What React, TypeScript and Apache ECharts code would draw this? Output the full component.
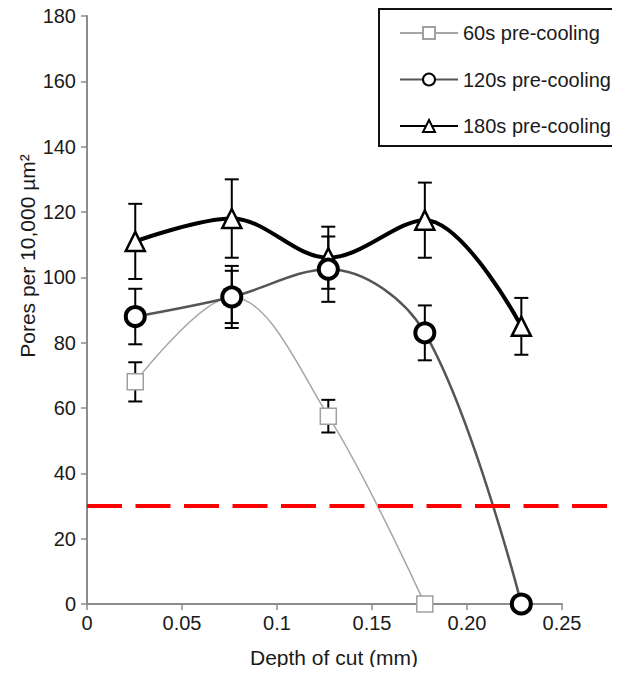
import React, { useEffect, useRef } from "react";
import * as echarts from "echarts";

// Depths of cut (mm) — 0.001" steps converted to mm
const depths = [0.0254, 0.0762, 0.127, 0.1778, 0.2286];

const seriesNames = ["60s pre-cooling", "120s pre-cooling", "180s pre-cooling"];

const values60 = [68, 94, 57.5, 0];
const errors60 = [6, 8, 5, 0];

const values120 = [88, 94, 102.5, 83, 0];
const errors120 = [8.5, 9.5, 10, 8.4, 0];

const values180 = [111, 118, 106, 117.5, 85];
const errors180 = [11.5, 12, 9.5, 11.5, 8.7];

const thresholdValue = 30;
// threshold line runs from the y axis to the right edge of the picture
const thresholdExtent = [0, 0.2805];

const xTickLabels = ["0", "0.05", "0.1", "0.15", "0.20", "0.25"];

const xAxisTitle = "Depth of cut (mm)";
const yAxisTitle = "Pores per 10,000 µm²";

const FONT = "'Liberation Sans', Arial, sans-serif";

function pairs(vals: number[]) {
  return vals.map((v, i) => [depths[i], v]);
}
function errData(vals: number[], errs: number[]) {
  const out: number[][] = [];
  vals.forEach((v, i) => {
    if (errs[i] > 0) out.push([depths[i], v - errs[i], v + errs[i]]);
  });
  return out;
}

function errorSeries(vals: number[], errs: number[]) {
  return {
    type: "custom",
    z: 1,
    silent: true,
    data: errData(vals, errs),
    encode: { x: 0, y: [1, 2] },
    renderItem: (params: any, api: any) => {
      const x = api.value(0);
      const lo = api.value(1);
      const hi = api.value(2);
      const pT = api.coord([x, hi]);
      const pB = api.coord([x, lo]);
      const w = 7;
      const st = { stroke: "#000", lineWidth: 2 };
      return {
        type: "group",
        children: [
          { type: "line", shape: { x1: pT[0], y1: pT[1], x2: pB[0], y2: pB[1] }, style: st },
          { type: "line", shape: { x1: pT[0] - w, y1: pT[1], x2: pT[0] + w, y2: pT[1] }, style: st },
          { type: "line", shape: { x1: pB[0] - w, y1: pB[1], x2: pB[0] + w, y2: pB[1] }, style: st },
        ],
      };
    },
  };
}

export default function App() {
  const ref = useRef<HTMLDivElement>(null);
  useEffect(() => {
    if (!ref.current) return;
    const chart = echarts.init(ref.current, null, { renderer: "svg" });
    const axisColor = "#8c8c8c";
    const SMOOTH = 0.35;
    chart.setOption({
      animation: false,
      backgroundColor: "#fff",
      textStyle: { fontFamily: FONT },
      grid: [
        { left: 87, right: 58, top: 16, bottom: 71, containLabel: false },
        { left: 87, right: 0, top: 16, bottom: 71, containLabel: false },
      ],
      legend: {
        data: seriesNames,
        orient: "vertical",
        left: 399,
        top: 23,
        itemWidth: 58,
        itemHeight: 15,
        itemGap: 26.5,
        padding: 0,
        selectedMode: false,
        textStyle: { fontSize: 20, color: "#1a1a1a", fontFamily: FONT },
      },
      xAxis: [
        {
          type: "value",
          gridIndex: 0,
          min: 0,
          max: 0.25,
          interval: 0.05,
          splitLine: { show: false },
          axisLine: { show: true, onZero: false, lineStyle: { color: axisColor, width: 2 } },
          axisTick: { show: true, inside: false, length: 6, lineStyle: { color: axisColor, width: 1.5 } },
          axisLabel: {
            margin: 9,
            fontSize: 20,
            color: "#1a1a1a",
            fontFamily: FONT,
            formatter: (v: number) => xTickLabels[Math.round(v / 0.05)] ?? String(v),
          },
        },
        {
          type: "value",
          gridIndex: 1,
          min: 0,
          max: thresholdExtent[1],
          show: false,
        },
      ],
      yAxis: [
        {
          type: "value",
          gridIndex: 0,
          min: 0,
          max: 180,
          interval: 20,
          splitLine: { show: false },
          axisLine: { show: true, onZero: false, lineStyle: { color: axisColor, width: 2 } },
          axisTick: { show: true, inside: false, length: 6, lineStyle: { color: axisColor, width: 1.5 } },
          axisLabel: { margin: 11, fontSize: 20, color: "#1a1a1a", fontFamily: FONT },
        },
        {
          type: "value",
          gridIndex: 1,
          min: 0,
          max: 180,
          show: false,
        },
      ],
      graphic: [
        {
          type: "rect",
          shape: { x: 379, y: 9, width: 236, height: 137 },
          style: { fill: "none", stroke: "#111", lineWidth: 2 },
          z: 10,
        },
        {
          type: "text",
          x: 27,
          y: 256,
          rotation: Math.PI / 2,
          style: {
            text: yAxisTitle,
            fontSize: 21,
            fontFamily: FONT,
            fill: "#1a1a1a",
            align: "center",
            verticalAlign: "middle",
          },
        },
        {
          type: "text",
          x: 334,
          y: 657,
          style: {
            text: xAxisTitle,
            fontSize: 21,
            fontFamily: FONT,
            fill: "#1a1a1a",
            align: "center",
            verticalAlign: "middle",
          },
        },
      ],
      series: [
        errorSeries(values180, errors180),
        errorSeries(values120, errors120),
        errorSeries(values60, errors60),
        {
          name: seriesNames[2],
          type: "line",
          z: 2,
          smooth: SMOOTH,
          data: pairs(values180),
          symbol: "triangle",
          symbolSize: 19,
          lineStyle: { color: "#000", width: 4 },
          itemStyle: { color: "#fff", borderColor: "#000", borderWidth: 2.5 },
        },
        {
          name: seriesNames[0],
          type: "line",
          z: 3,
          smooth: SMOOTH,
          data: pairs(values60),
          symbol: "rect",
          symbolSize: 16,
          lineStyle: { color: "#a6a6a6", width: 1.5 },
          itemStyle: { color: "#fff", borderColor: "#a0a0a0", borderWidth: 1.5 },
        },
        {
          name: seriesNames[1],
          type: "line",
          z: 4,
          smooth: SMOOTH,
          data: pairs(values120),
          symbol: "circle",
          symbolSize: 19,
          lineStyle: { color: "#555", width: 2.5 },
          itemStyle: { color: "#fff", borderColor: "#000", borderWidth: 4 },
        },
        {
          name: "threshold",
          type: "line",
          xAxisIndex: 1,
          yAxisIndex: 1,
          z: 5,
          silent: true,
          symbol: "none",
          data: thresholdExtent.map((x) => [x, thresholdValue]),
          lineStyle: { color: "#ff0000", width: 4, type: [35, 13.5] },
        },
      ],
    });
    return () => chart.dispose();
  }, []);
  return <div ref={ref} style={{ width: 620, height: 675, margin: -8 }} />;
}
